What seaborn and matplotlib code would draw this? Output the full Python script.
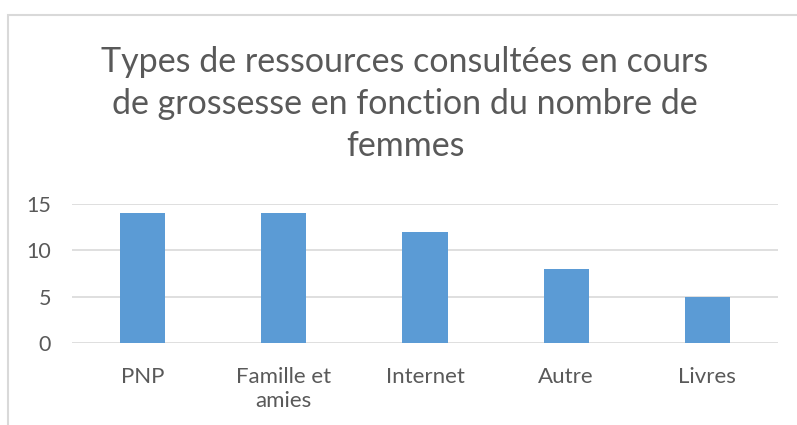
import matplotlib
matplotlib.use("Agg")
import matplotlib.pyplot as plt
import seaborn as sns
import pandas as pd
from matplotlib.patches import Rectangle

categories = ["PNP", "Famille et\namies", "Internet", "Autre", "Livres"]
values = [14, 14, 12, 8, 5]
yticks = [0, 5, 10, 15]
title = "Types de ressources consultées en cours\nde grossesse en fonction du nombre de\nfemmes"

sns.set_theme(style="white")
plt.rcParams["font.family"] = ["Lato", "DejaVu Sans"]

W, H = 797, 425
fig = plt.figure(figsize=(W / 100, H / 100), dpi=100)
fig.patch.set_facecolor("white")

# chart border
fig.patches.append(Rectangle((8 / W, -0.1), 1.2, (H - 15) / H + 0.1, transform=fig.transFigure,
                             fill=False, edgecolor="#d9d9d9", linewidth=1.5))

left, right, top, bottom = 72, 778, 204, 343
ax = fig.add_axes([left / W, (H - bottom) / H, (right - left) / W, (bottom - top) / H])

df = pd.DataFrame({"cat": categories, "val": values})
sns.barplot(data=df, x="cat", y="val", color="#5b9bd5", saturation=1, width=0.32,
            edgecolor="none", linewidth=0, ax=ax)

ax.set_ylim(0, 15)
ax.set_yticks(yticks)
ax.set_xlim(-0.5, len(categories) - 0.5)
ax.set_xlabel("")
ax.set_ylabel("")
for s in ax.spines.values():
    s.set_visible(False)
ax.yaxis.grid(True, color="#d9d9d9", linewidth=1.2)
ax.set_axisbelow(True)
ax.tick_params(axis="x", length=0, labelsize=16, colors="#595959", pad=17)
ax.tick_params(axis="y", length=0, labelsize=15.5, colors="#595959", pad=15)
for lbl in ax.get_xticklabels():
    lbl.set_linespacing(1.25)
for lbl in ax.get_yticklabels():
    lbl.set_horizontalalignment("right")

fig.text(405 / W, 1 - 46 / H, title, ha="center", va="top", fontsize=24.5,
         color="#595959", linespacing=1.38)

fig.savefig("out.png", dpi=100)
